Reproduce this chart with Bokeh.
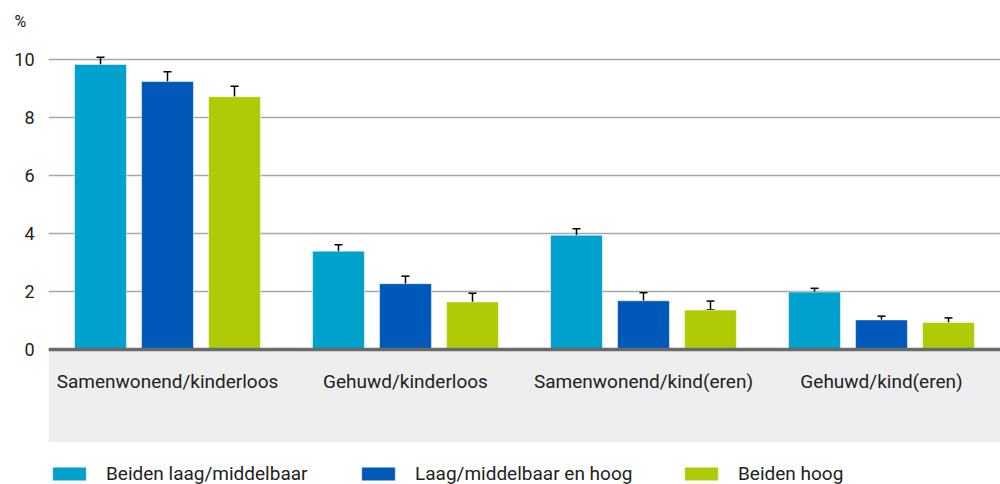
from bokeh.plotting import figure
from bokeh.models import (ColumnDataSource, FactorRange, Range1d, FixedTicker, Whisker, TeeHead,
                          Span, BoxAnnotation, Legend, LegendItem)
from bokeh.transform import dodge
from bokeh.core.properties import value
from bokeh.embed import file_html
from bokeh.resources import INLINE

categories = ["Samenwonend/kinderloos", "Gehuwd/kinderloos", "Samenwonend/kind(eren)", "Gehuwd/kind(eren)"]
series_names = ["Beiden laag/middelbaar", "Laag/middelbaar en hoog", "Beiden hoog"]

beiden_laag = [9.83, 3.39, 3.94, 1.98]
beiden_laag_lo = [9.59, 3.28, 3.77, 1.93]
beiden_laag_hi = [10.08, 3.61, 4.16, 2.11]

gemengd = [9.24, 2.27, 1.68, 1.02]
gemengd_lo = [8.96, 2.09, 1.47, 0.95]
gemengd_hi = [9.58, 2.53, 1.96, 1.15]

beiden_hoog = [8.72, 1.64, 1.36, 0.93]
beiden_hoog_lo = [8.37, 1.44, 1.37, 0.87]
beiden_hoog_hi = [9.08, 1.94, 1.67, 1.09]

y_ticks = [0, 2, 4, 6, 8, 10]

colors = ["#00a1cd", "#0058b8", "#afcb05"]
offsets = [-0.2815, 0.0, 0.2815]
FONT = "Roboto"
TXT = "#222222"

p = figure(x_range=FactorRange(factors=categories, range_padding=0),
           y_range=Range1d(-4.655, 10.966),
           width=1000, height=484, output_backend="svg", toolbar_location=None,
           min_border_left=48, min_border_right=0, min_border_top=31, min_border_bottom=0,
           title="%")
p.title.align = "left"
p.title.offset = -34
p.title.standoff = 2
p.title.text_font = FONT
p.title.text_font_size = "16px"
p.title.text_font_style = "normal"
p.title.text_color = TXT

p.outline_line_color = None
p.xaxis.visible = False
p.xgrid.visible = False

p.yaxis.ticker = FixedTicker(ticks=y_ticks)
p.yaxis.axis_line_color = None
p.yaxis.major_tick_line_color = None
p.yaxis.minor_tick_line_color = None
p.yaxis.major_tick_out = 0
p.yaxis.major_label_standoff = 14
p.yaxis.major_label_text_font = FONT
p.yaxis.major_label_text_font_size = "18px"
p.yaxis.major_label_text_color = TXT
p.ygrid.ticker = FixedTicker(ticks=y_ticks)
p.ygrid.grid_line_color = "#a8a8a8"
p.ygrid.grid_line_width = 1.5

# grey band below the axis
p.add_layout(BoxAnnotation(bottom=-3.2, top=0, fill_color="#eeeeee", fill_alpha=1,
                           line_color=None, level="underlay"))

series = [
    (beiden_laag, beiden_laag_lo, beiden_laag_hi),
    (gemengd, gemengd_lo, gemengd_hi),
    (beiden_hoog, beiden_hoog_lo, beiden_hoog_hi),
]
renderers = []
for (vals, lo, hi), col, off in zip(series, colors, offsets):
    src = ColumnDataSource(dict(cat=categories, val=vals, lo=lo, hi=hi))
    r = p.vbar(x=dodge("cat", off, range=p.x_range), top="val", width=0.218, source=src,
               fill_color=col, line_color="white", line_alpha=0.5, line_width=1)
    renderers.append(r)
    w = Whisker(source=src, base=dodge("cat", off, range=p.x_range), upper="hi", lower="lo",
                line_color="black", line_width=1.5,
                upper_head=TeeHead(size=8, line_color="black", line_width=1.5),
                lower_head=TeeHead(size=8, line_color="black", line_width=1.5))
    p.add_layout(w)

p.add_layout(Span(location=0, dimension="width", line_color="#6a6a6a", line_width=3.5))

# category labels in the grey band
p.text(x=categories, y=-1.1, text=categories, text_align="center", text_baseline="middle",
       text_font=value(FONT), text_font_size="19px", text_color=TXT)

legend_x = [0, 309, 632]
for name, r, lx in zip(series_names, renderers, legend_x):
    lg = Legend(items=[LegendItem(label=name, renderers=[r])], location=(lx, -1),
                orientation="horizontal", padding=0, margin=0, glyph_width=42, glyph_height=17,
                label_standoff=16, border_line_color=None, background_fill_alpha=0,
                label_text_font=FONT, label_text_font_size="19px", label_text_color=TXT)
    p.add_layout(lg)

open("out.html", "w").write(file_html(p, INLINE))
